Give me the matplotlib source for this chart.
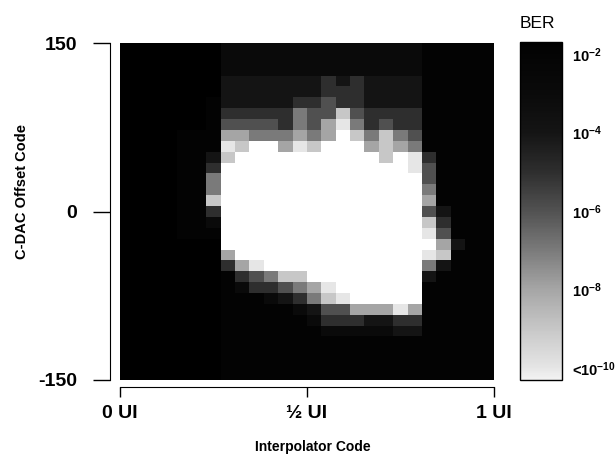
import numpy as np
import matplotlib
matplotlib.use("Agg")
import matplotlib.pyplot as plt
from matplotlib.colors import LinearSegmentedColormap, Normalize

plt.rcParams['font.family'] = ['Liberation Sans', 'DejaVu Sans']
plt.rcParams['mathtext.fontset'] = 'custom'
plt.rcParams['mathtext.rm'] = 'Liberation Sans:bold'
plt.rcParams['mathtext.bf'] = 'Liberation Sans:bold'
plt.rcParams['mathtext.default'] = 'bf'

# -log10(BER) per cell as hex digit, top row = offset +150
# 'b' -> below 1e-10 (white), '1' -> saturated black
# groups: cols 0-6 | 7-13 | 14-20 | 21-25
ber_rows = [
    "1111111 3333333 3333333 22222",
    "1111111 3333333 3333333 22222",
    "1111111 3333333 3333333 22222",
    "1111111 4444444 5454444 22222",
    "1111111 4444444 5554444 22222",
    "1111112 4444455 6554444 22222",
    "1111112 5555576 6965555 22222",
    "1111112 6666576 8a75655 22222",
    "1111222 8877787 8b97976 22222",
    "1111222 a9bb8a9 bbb8987 22222",
    "1111224 9bbbbbb bbbb9ba 52222",
    "1111225 bbbbbbb bbbbbba 62222",
    "1111227 bbbbbbb bbbbbbb 62222",
    "1111227 bbbbbbb bbbbbbb 72222",
    "1111229 bbbbbbb bbbbbbb 82222",
    "1111225 bbbbbbb bbbbbbb 64222",
    "1111223 bbbbbbb bbbbbbb 95222",
    "1111222 bbbbbbb bbbbbbb a6222",
    "1111111 bbbbbbb bbbbbbb b8422",
    "1111111 8bbbbbb bbbbbbb a9222",
    "1111111 58abbbb bbbbbbb 74222",
    "1111111 256799b bbbbbbb 42222",
    "1111111 2355678 abbbbbb 22222",
    "1111111 2223457 9abbbbb 22222",
    "1111111 2222234 66888a8 22222",
    "1111111 2222223 5554455 22222",
    "1111111 2222222 3333344 22222",
    "1111111 2222222 2222222 22222",
    "1111111 2222222 2222222 22222",
    "1111111 2222222 2222222 22222",
    "1111111 2222222 2222222 22222",
]

x_ticks = [0, 0.5, 1]
x_labels = ['0 UI', '½ UI', '1 UI']
y_ticks = [150, 0, -150]
cbar_ticks = [-2, -4, -6, -8, -10]
cbar_labels = [r'10$^{-2}$', r'10$^{-4}$', r'10$^{-6}$', r'10$^{-8}$', r'<10$^{-10}$']

log_ber = np.array([[-int(ch, 16) for ch in row.replace(" ", "")] for row in ber_rows], dtype=float)

vmin, vmax = -10.3, -1.7
anchors = [(-10.3, 0.95), (-10, 0.90), (-9, 0.78), (-8, 0.65), (-7, 0.48),
           (-6, 0.32), (-5, 0.18), (-4, 0.08), (-3, 0.04), (-2, 0.015), (-1.7, 0.0)]
cmap = LinearSegmentedColormap.from_list(
    'ber', [((v - vmin) / (vmax - vmin), (g, g, g)) for v, g in anchors])
cmap.set_under('white')
cmap.set_over('black')
norm = Normalize(vmin=vmin, vmax=vmax)

W, H = 615, 474
fig = plt.figure(figsize=(W / 100, H / 100), dpi=100)
ax = fig.add_axes([120 / W, 94 / H, 374 / W, 337 / H])
im = ax.imshow(log_ber, cmap=cmap, norm=norm, extent=[0, 1, -150, 150],
               aspect='auto', interpolation='nearest')
ax.set_xlim(0, 1)
ax.set_ylim(-150, 150)

for s in ['top', 'right']:
    ax.spines[s].set_visible(False)
ax.spines['left'].set_position(('outward', 7))
ax.spines['bottom'].set_position(('outward', 5))
ax.spines['left'].set_bounds(-150, 150)
ax.spines['bottom'].set_bounds(0, 1)

ax.set_yticks(y_ticks)
ax.set_yticklabels([str(t) for t in y_ticks], fontsize=14, fontweight='bold')
ax.set_xticks(x_ticks)
ax.set_xticklabels(x_labels, fontsize=14, fontweight='bold')
ax.tick_params(axis='y', length=12, width=1, pad=12)
ax.tick_params(axis='x', length=7, width=1, pad=6)

fig.text(22 / W, 1 - 192 / H, 'C-DAC Offset Code', rotation=90, ha='center',
         va='center', fontsize=10.5, fontweight='bold')
fig.text(313 / W, 1 - 447 / H, 'Interpolator Code', ha='center', va='center',
         fontsize=10, fontweight='bold')

cax = fig.add_axes([520 / W, 94 / H, 42 / W, 338 / H])
cb = fig.colorbar(im, cax=cax, ticks=cbar_ticks)
cb.ax.set_yticklabels(cbar_labels, fontsize=10.5, fontweight='bold')
cb.ax.tick_params(length=0, pad=7)
cb.outline.set_linewidth(1)
cb.outline.set_edgecolor('black')
fig.text(537 / W, 1 - 23 / H, 'BER', ha='center', va='center', fontsize=12.5)

fig.savefig('out.png', dpi=100)
